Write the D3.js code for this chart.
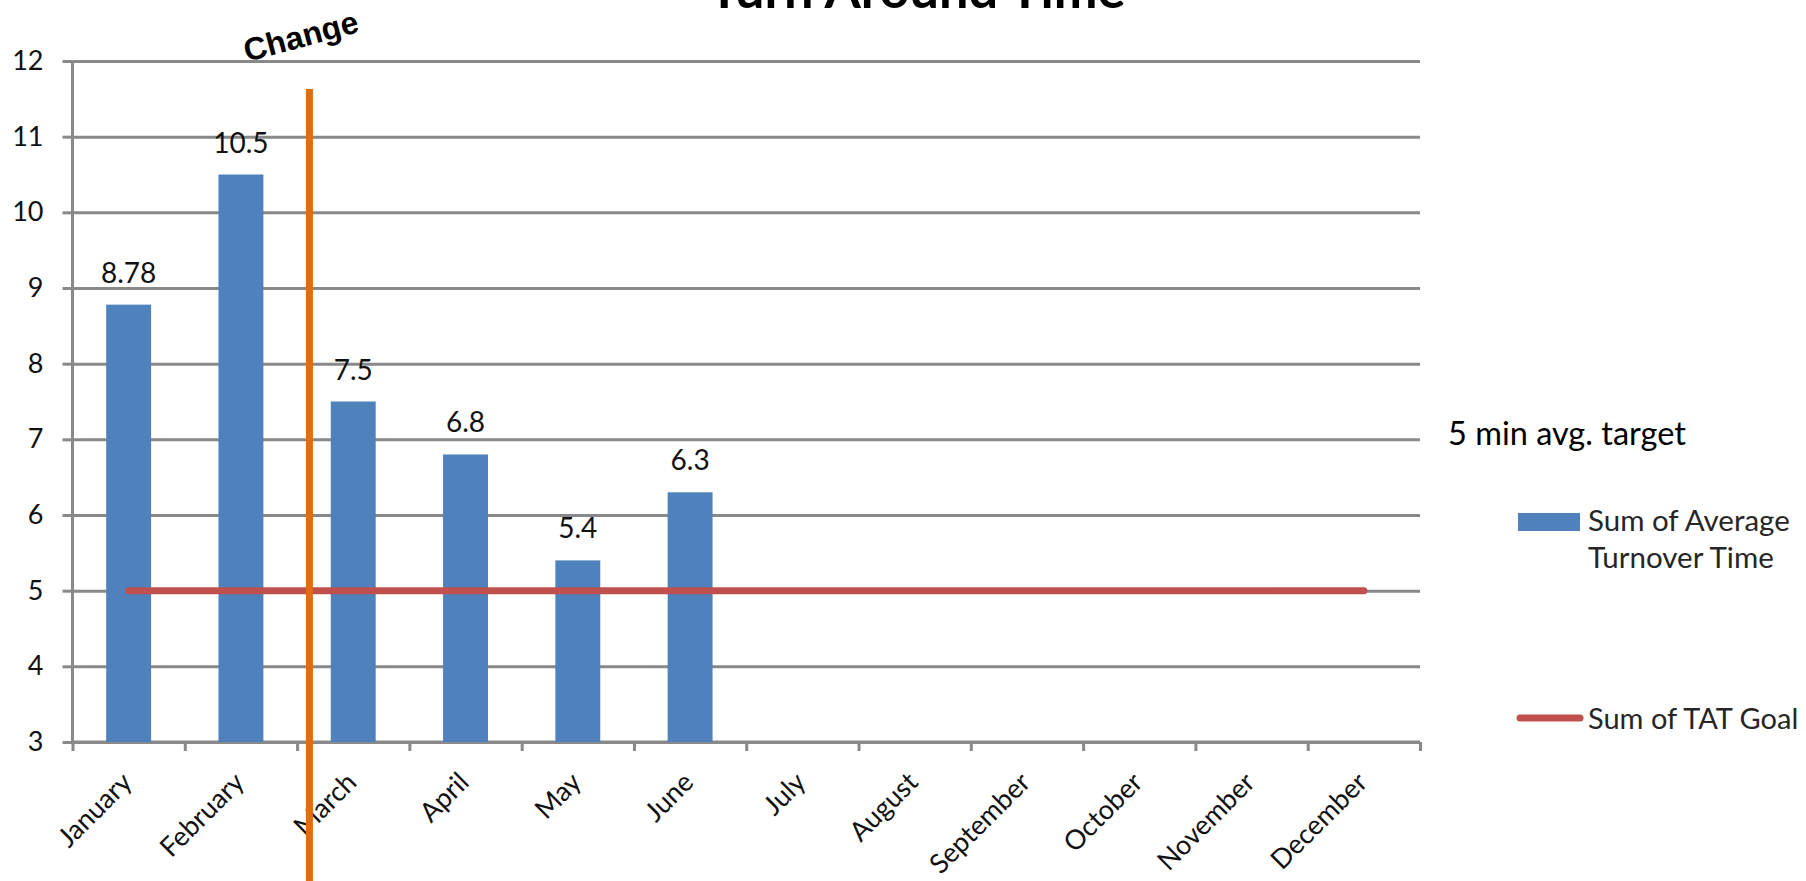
<!DOCTYPE html>
<html>
<head>
<meta charset="utf-8">
<script src="https://cdn.jsdelivr.net/npm/d3@7"></script>
<style>
  body { margin: 0; background: #ffffff; }
  svg { display: block; }
</style>
</head>
<body>
<svg id="chart" width="1806" height="881"></svg>
<script>
// ---------------- data ----------------
const months = ["January", "February", "March", "April", "May", "June",
                "July", "August", "September", "October", "November", "December"];
const turnoverTime = [8.78, 10.5, 7.5, 6.8, 5.4, 6.3, null, null, null, null, null, null];
const tatGoal = [5, 5, 5, 5, 5, 5, 5, 5, 5, 5, 5, 5];
const yTickValues = [3, 4, 5, 6, 7, 8, 9, 10, 11, 12];
const titleText = "Turn Around Time";
const changeText = "Change";
const changePosition = 2.11;      // category units: just after the Feb/Mar boundary
const changeTopValue = 11.63;     // y value where the orange marker starts
const targetNote = "5 min avg. target";
const legendBarLabel = ["Sum of Average", "Turnover Time"];
const legendLineLabel = "Sum of TAT Goal";

// ---------------- layout ----------------
const W = 1806, H = 881;
const plot = { left: 72.5, right: 1420, top: 61, bottom: 742 };
const calibri = "Lato, 'Open Sans', sans-serif";
const gridColor = "#898989";
const barColor = "#4F81BD";
const goalColor = "#C0504D";
const changeColor = "#E46C0A";
const textColor = "#111111";

const svg = d3.select("#chart");

const x = d3.scaleBand().domain(months)
  .range([plot.left, plot.right]).paddingInner(0.6).paddingOuter(0.3);
const xIdx = d3.scaleLinear().domain([0, months.length]).range([plot.left, plot.right]);
const y = d3.scaleLinear().domain([3, 12]).range([plot.bottom, plot.top]);
const xc = m => x(m) + x.bandwidth() / 2;

// gridlines
const gridAxis = d3.axisLeft(y).tickValues(yTickValues)
  .tickSize(-(plot.right - plot.left)).tickFormat("");
svg.append("g").attr("transform", `translate(${plot.left},0)`).call(gridAxis)
  .call(g => g.select(".domain").remove())
  .call(g => g.selectAll("line").attr("stroke", gridColor).attr("stroke-width", 3));

// y axis with small outer ticks and labels
const yAxis = d3.axisLeft(y).tickValues(yTickValues).tickSize(10).tickPadding(19)
  .tickFormat(d3.format("d"));
svg.append("g").attr("transform", `translate(${plot.left},0)`).call(yAxis)
  .call(g => g.select(".domain").attr("stroke", gridColor).attr("stroke-width", 3)
               .attr("d", `M0,${plot.top}V${plot.bottom}`))
  .call(g => g.selectAll("line").attr("stroke", gridColor).attr("stroke-width", 3))
  .call(g => g.selectAll("text").attr("font-family", calibri).attr("font-size", 27)
               .attr("fill", textColor));

// bottom axis: tick marks at category boundaries
const xAxis = d3.axisBottom(xIdx).tickValues(d3.range(months.length + 1))
  .tickSize(9).tickFormat("");
svg.append("g").attr("transform", `translate(0,${plot.bottom})`).call(xAxis)
  .call(g => g.select(".domain").attr("stroke", gridColor).attr("stroke-width", 3)
               .attr("d", `M${plot.left},0H${plot.right}`))
  .call(g => g.selectAll("line").attr("stroke", gridColor).attr("stroke-width", 3));

// month labels rotated -45
svg.append("g").selectAll("text").data(months).join("text")
  .attr("transform", d => `translate(${xc(d) + 5},${plot.bottom + 42}) rotate(-45)`)
  .attr("text-anchor", "end")
  .attr("font-family", calibri).attr("font-size", 27).attr("fill", textColor)
  .text(d => d);

// bars
const barData = months.map((m, i) => ({ m, v: turnoverTime[i] })).filter(d => d.v != null);
svg.append("g").selectAll("rect").data(barData).join("rect")
  .attr("x", d => x(d.m)).attr("width", x.bandwidth())
  .attr("y", d => y(d.v)).attr("height", d => y(3) - y(d.v))
  .attr("fill", barColor);

// data labels
svg.append("g").selectAll("text").data(barData).join("text")
  .attr("x", d => xc(d.m)).attr("y", d => y(d.v) - 22)
  .attr("text-anchor", "middle")
  .attr("font-family", calibri).attr("font-size", 28).attr("fill", textColor)
  .text(d => d.v);

// goal line
const line = d3.line().x(d => xc(d.m)).y(d => y(d.v));
svg.append("path")
  .datum(months.map((m, i) => ({ m, v: tatGoal[i] })))
  .attr("d", line).attr("fill", "none")
  .attr("stroke", goalColor).attr("stroke-width", 7).attr("stroke-linecap", "round");

// title (top clipped by page edge, as in the reference)
const title = svg.append("text")
  .attr("x", 917).attr("y", 8).attr("text-anchor", "middle")
  .attr("font-family", calibri).attr("font-weight", "bold").attr("font-size", 50)
  .attr("fill", "#000").text(titleText);
const tw = title.node().getComputedTextLength();
if (tw > 0) title.attr("font-size", 50 * 417 / tw);

// right-side note and legend
svg.append("text").attr("x", 1448).attr("y", 445)
  .attr("font-family", calibri).attr("font-size", 32.5).attr("fill", "#000")
  .text(targetNote);

const lg = svg.append("g");
lg.append("rect").attr("x", 1518).attr("y", 513).attr("width", 62).attr("height", 18)
  .attr("fill", barColor);
lg.append("text").attr("font-family", calibri).attr("font-size", 29.5).attr("fill", "#262626")
  .selectAll("tspan").data(legendBarLabel).join("tspan")
  .attr("x", 1588).attr("y", (d, i) => 531 + i * 37).text(d => d);
lg.append("line").attr("x1", 1520).attr("x2", 1580).attr("y1", 718).attr("y2", 718)
  .attr("stroke", goalColor).attr("stroke-width", 7).attr("stroke-linecap", "round");
lg.append("text").attr("x", 1588).attr("y", 728.5)
  .attr("font-family", calibri).attr("font-size", 29).attr("fill", "#262626")
  .text(legendLineLabel);

// change marker
svg.append("line")
  .attr("x1", xIdx(changePosition)).attr("x2", xIdx(changePosition))
  .attr("y1", y(changeTopValue)).attr("y2", H)
  .attr("stroke", changeColor).attr("stroke-width", 7);
svg.append("text")
  .attr("transform", "translate(247,62) rotate(-15)")
  .attr("font-family", "'Liberation Sans', Arial, sans-serif").attr("font-weight", "bold")
  .attr("font-size", 32).attr("fill", "#000").text(changeText);
</script>
</body>
</html>
